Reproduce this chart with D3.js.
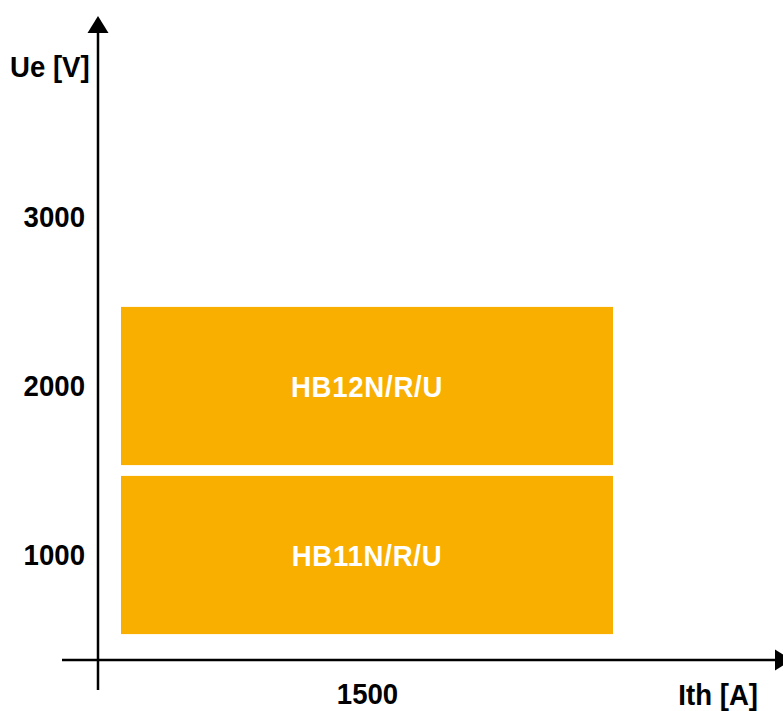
<!DOCTYPE html>
<html>
<head>
<meta charset="utf-8">
<script src="https://cdn.jsdelivr.net/npm/d3@7"></script>
<style>
  body { margin: 0; background: #fff; }
  svg text { font-family: "Liberation Sans", Arial, sans-serif; font-weight: bold; }
</style>
</head>
<body>
<div id="chart-area"></div>
<script>
// data
let ueTicks = ["1000", "2000", "3000"];
let ithTicks = [1500];
let products = ["HB11N/R/U", "HB12N/R/U"];
let productUe = ["1000", "2000"];
let productIthFrom = [0, 0];
let productIthTo = [3000, 3000];

let width = 783, height = 711;
let barColor = "#f9af00";
let fontSize = 30;
let squeeze = 0.92;   // reference uses a condensed face

let svg = d3.select("#chart-area").append("svg")
    .attr("width", width)
    .attr("height", height);

// scales
let x = d3.scaleLinear()
    .domain([0, 3000])
    .range([121, 613]);

let y = d3.scaleBand()
    .domain(ueTicks)
    .range([639.5, 132.5])
    .paddingInner(0.064)
    .paddingOuter(0.032);

let bars = products.map((p, i) => ({
    name: p, ue: productUe[i], from: productIthFrom[i], to: productIthTo[i]
}));

// put a text at (px,py) squeezed horizontally
function place(sel, px, py) {
    sel.attr("x", 0).attr("y", 0)
       .attr("transform", "translate(" + px + "," + py + ") scale(" + squeeze + ",1)")
       .style("font-size", fontSize + "px");
}

// bars
svg.selectAll("rect.bar")
    .data(bars)
    .enter().append("rect")
    .attr("class", "bar")
    .attr("x", d => x(d.from))
    .attr("width", d => x(d.to) - x(d.from))
    .attr("y", d => y(d.ue))
    .attr("height", y.bandwidth())
    .attr("fill", barColor);

svg.selectAll("text.bar-label")
    .data(bars)
    .enter().append("text")
    .attr("class", "bar-label")
    .attr("dy", "0.36em")
    .attr("text-anchor", "middle")
    .attr("fill", "#fff")
    .style("letter-spacing", "0.8px")
    .text(d => d.name)
    .each(function(d) {
        place(d3.select(this), (x(d.from) + x(d.to)) / 2, y(d.ue) + y.bandwidth() / 2);
    });

// axes (labels only, lines drawn below)
let yAxis = d3.axisLeft(y).tickSize(0).tickPadding(13);
let yG = svg.append("g")
    .attr("transform", "translate(98,0)")
    .call(yAxis);
yG.select(".domain").remove();
yG.selectAll(".tick text").each(function() {
    place(d3.select(this), -13, 0);
});

let xAxis = d3.axisBottom(x).tickValues(ithTicks).tickSize(0).tickPadding(23).tickFormat(d3.format("d"));
let xG = svg.append("g")
    .attr("transform", "translate(0,660)")
    .call(xAxis);
xG.select(".domain").remove();
xG.selectAll(".tick text").each(function() {
    place(d3.select(this), 0, 23);
});

svg.selectAll(".tick text")
    .attr("fill", "#000")
    .attr("font-family", null)
    .attr("font-size", null);

// axis lines with arrows
svg.append("line")
    .attr("x1", 98).attr("x2", 98)
    .attr("y1", 690).attr("y2", 30)
    .attr("stroke", "#000").attr("stroke-width", 2.5);
svg.append("path")
    .attr("d", "M98,16 L108.5,33 L87.5,33 Z")
    .attr("fill", "#000");

svg.append("line")
    .attr("x1", 62).attr("x2", 778)
    .attr("y1", 660).attr("y2", 660)
    .attr("stroke", "#000").attr("stroke-width", 2.5);
svg.append("path")
    .attr("d", "M792,660 L775,649.5 L775,670.5 Z")
    .attr("fill", "#000");

// axis titles
svg.append("text")
    .text("Ue [V]")
    .call(place, 10, 77);

svg.append("text")
    .attr("text-anchor", "end")
    .text("Ith [A]")
    .call(place, 758, 705);
</script>
</body>
</html>
